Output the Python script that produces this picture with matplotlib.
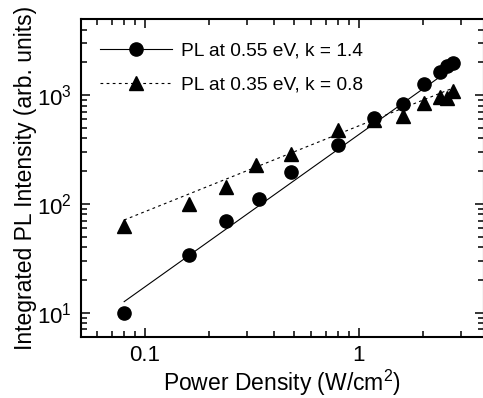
import numpy as np
import matplotlib
matplotlib.use("Agg")
import matplotlib.pyplot as plt

plt.rcParams['font.family'] = ['Liberation Sans', 'DejaVu Sans']
plt.rcParams['mathtext.fontset'] = 'custom'
plt.rcParams['mathtext.rm'] = 'Liberation Sans'
plt.rcParams['mathtext.it'] = 'Liberation Sans'

# PL at 0.55 eV (circles)
power_055 = [0.08, 0.16, 0.24, 0.34, 0.48, 0.80, 1.18, 1.61, 2.01, 2.39, 2.59, 2.76]
pl_055 = [10, 34, 70, 111, 198, 349, 615, 830, 1263, 1640, 1850, 1960]

# PL at 0.35 eV (triangles)
power_035 = [0.08, 0.16, 0.24, 0.33, 0.48, 0.80, 1.18, 1.61, 2.01, 2.39, 2.59, 2.76]
pl_035 = [63, 100, 144, 228, 288, 472, 585, 645, 840, 960, 935, 1090]

# power-law fit lines (end points)
fit_x_055, fit_y_055 = [0.08, 2.8], [12.6, 1830]
fit_x_035, fit_y_035 = [0.08, 2.7], [71, 1140]

labels = ['PL at 0.55 eV, k = 1.4', 'PL at 0.35 eV, k = 0.8']

fig = plt.figure(figsize=(4.83, 3.98), dpi=100)
ax = fig.add_axes([80.5/483, 1 - 336.7/398, (484 - 80.5)/483, (336.7 - 19)/398])

ax.plot(fit_x_055, fit_y_055, color='black', lw=0.8)
ax.plot(fit_x_035, fit_y_035, color='black', lw=0.8, ls=(0, (2.5, 3)))
ax.plot(power_055, pl_055, 'o', color='black', ms=9.5)
ax.plot(power_035, pl_035, '^', color='black', ms=9.5)

# legend handles: line + marker
h1, = ax.plot([], [], color='black', lw=0.8, marker='o', ms=9.5)
h2, = ax.plot([], [], color='black', lw=0.8, ls=(0, (2.5, 3)), marker='^', ms=9.5)
ax.legend([h1, h2], labels, loc='upper left', frameon=False, fontsize=13.8,
          handlelength=3.75, handletextpad=0.45, labelspacing=0.9,
          borderaxespad=0.0, bbox_to_anchor=(0.03, 0.952))

ax.set_xscale('log')
ax.set_yscale('log')
ax.set_xlim(0.05, 3.85)
ax.set_ylim(6, 5000)

ax.set_xticks([0.1, 1])
ax.set_xticklabels(['0.1', '1'])
ax.set_yticks([10, 100, 1000])
ax.set_yticklabels([r'$\mathregular{10^1}$', r'$\mathregular{10^2}$', r'$\mathregular{10^3}$'])

ax.tick_params(which='both', direction='in', top=True, right=True, width=1.1, labelsize=16)
ax.tick_params(which='major', length=6.5, pad=6)
ax.tick_params(which='minor', length=4.3)
for s in ax.spines.values():
    s.set_linewidth(1.5)

ax.set_xlabel(r'Power Density (W/cm$\mathregular{^2}$)', fontsize=16.5, labelpad=1)
ax.set_ylabel('Integrated PL Intensity (arb. units)', fontsize=16.5, labelpad=0)

fig.savefig('out.png', dpi=100)
